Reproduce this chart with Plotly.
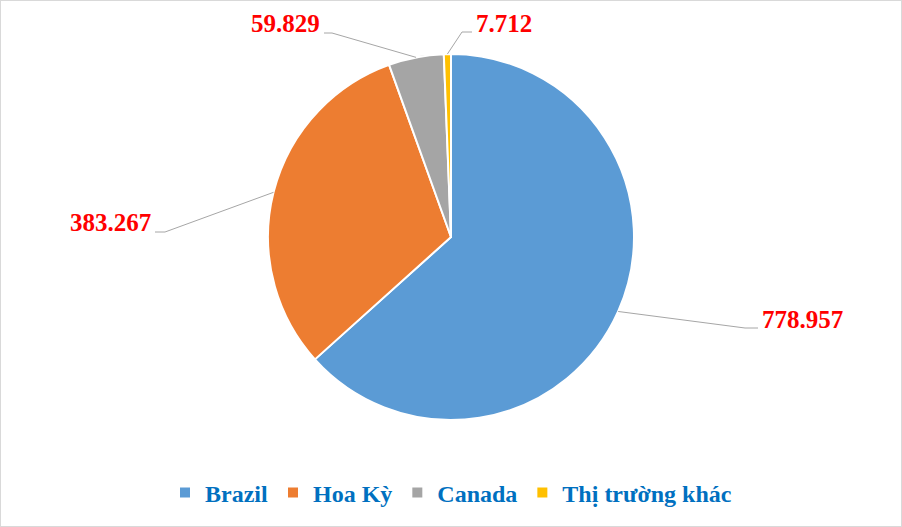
import math
import plotly.graph_objects as go

# ---- data ----
categories = ["Brazil", "Hoa Kỳ", "Canada", "Thị trường khác"]
values = [778957, 383267, 59829, 7712]
value_labels = ["778.957", "383.267", "59.829", "7.712"]

# ---- style / layout constants ----
W, H = 902, 527
colors = ["#5B9BD5", "#ED7D31", "#A5A5A5", "#FFC000"]
CX, CY, R = 451, 237, 183          # pie centre / radius in pixels
# label placement (pixels): text anchor x, baseline y, side, elbow x
label_pos = [
    dict(x=760, y=328, side="left", elbow=745),
    dict(x=153, y=232, side="right", elbow=165),
    dict(x=322, y=33, side="right", elbow=332),
    dict(x=474, y=32, side="left", elbow=462),
]

def px(x):
    return x / W

def py(y):
    return 1 - y / H

fig = go.Figure(
    go.Pie(
        labels=categories,
        values=values,
        sort=False,
        direction="clockwise",
        rotation=0,
        marker=dict(colors=colors, line=dict(color="white", width=2)),
        textinfo="none",
        hoverinfo="label+value+percent",
        domain=dict(x=[px(CX - R), px(CX + R)], y=[py(CY + R), py(CY - R)]),
    )
)

total = sum(values)
cum = 0
shapes = []
annotations = []
for v, lab, pos in zip(values, value_labels, label_pos):
    mid = (cum + v / 2) / total
    cum += v
    ang = 2 * math.pi * mid
    ax = CX + R * math.sin(ang)
    ay = CY - R * math.cos(ang)
    end_x = pos["x"] + (-2 if pos["side"] == "left" else 2)
    path = f"M{px(ax)},{py(ay)} L{px(pos['elbow'])},{py(pos['y'])} L{px(end_x)},{py(pos['y'])}"
    shapes.append(dict(type="path", xref="paper", yref="paper", path=path,
                       line=dict(color="#A6A6A6", width=1)))
    annotations.append(dict(
        x=px(pos["x"]), y=py(pos["y"] - 9), xref="paper", yref="paper",
        text=f"<b>{lab}</b>", showarrow=False,
        xanchor="left" if pos["side"] == "left" else "right", yanchor="middle",
        font=dict(family="Liberation Serif, Times New Roman, serif", size=25, color="#FF0000"),
    ))

# chart border
shapes.append(dict(type="rect", xref="paper", yref="paper", x0=0, y0=0, x1=1, y1=1,
                   line=dict(color="#D9D9D9", width=2)))

fig.update_layout(
    width=W, height=H,
    margin=dict(l=0, r=0, t=0, b=0),
    paper_bgcolor="white",
    plot_bgcolor="white",
    shapes=shapes,
    annotations=annotations,
    showlegend=True,
    legend=dict(
        orientation="h", x=0.5, xanchor="center", y=py(493), yanchor="middle",
        font=dict(family="Liberation Serif, Times New Roman, serif", size=24,
                  color="#0070C0", weight="bold"),
        itemwidth=30, tracegroupgap=0,
    ),
)

fig.write_html(
    "out.html",
    config={"displayModeBar": False},
    post_script="document.body.style.margin='0';document.body.style.overflow='hidden';",
)
